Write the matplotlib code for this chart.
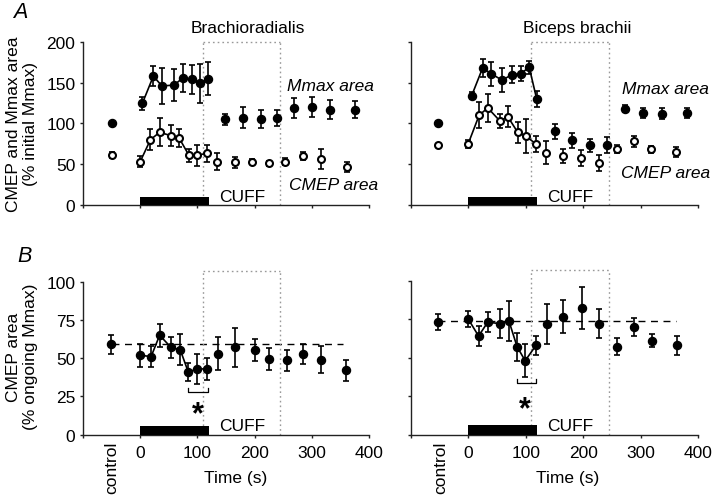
import matplotlib
matplotlib.use("Agg")
import matplotlib.pyplot as plt
import numpy as np

plt.rcParams['font.family'] = ['Liberation Sans', 'DejaVu Sans']

# ---------------- data ----------------
# Top-left (Brachioradialis) Mmax (filled) and CMEP (open), % initial Mmax
bra_m_t = [-50, 4, 23, 38, 59, 75, 90, 105, 119, 149, 180, 211, 239, 269, 301, 331, 376]
bra_m_v = [100, 125, 158, 146, 147, 156, 154, 149, 155, 105, 107, 105, 107, 119, 120, 117, 117]
bra_m_e = [0, 8, 12, 22, 20, 17, 18, 24, 20, 7, 13, 11, 10, 12, 12, 12, 11]
bra_c_t = [-50, 0, 18, 34, 53, 68, 85, 100, 116, 134, 165, 196, 226, 254, 285, 316, 361]
bra_c_v = [61, 53, 80, 89, 85, 82, 61, 61, 63, 53, 52, 53, 51, 53, 60, 56, 46]
bra_c_e = [4, 7, 13, 17, 13, 11, 8, 13, 11, 10, 7, 3, 3, 4, 5, 12, 6]

# Top-right (Biceps brachii)
bic_m_t = [-52, 6, 25, 40, 59, 76, 91, 106, 119, 150, 181, 212, 242, 272, 304, 337, 381]
bic_m_v = [100, 134, 168, 161, 153, 160, 161, 169, 130, 90, 79, 73, 73, 118, 113, 112, 113]
bic_m_e = [0, 4, 11, 15, 15, 10, 9, 8, 10, 9, 9, 8, 10, 4, 6, 7, 6]
bic_c_t = [-52, 0, 19, 34, 55, 69, 86, 101, 117, 136, 165, 196, 227, 258, 288, 318, 362]
bic_c_v = [74, 75, 110, 119, 103, 108, 89, 84, 75, 64, 60, 57, 51, 68, 78, 68, 65]
bic_c_e = [0, 5, 16, 17, 9, 13, 13, 21, 10, 14, 9, 10, 10, 5, 7, 4, 6]

# Bottom panels: CMEP area (% ongoing Mmax)
bra_b_t = [-51, 0, 19, 34, 54, 70, 84, 100, 117, 136, 165, 200, 225, 256, 285, 316, 360]
bra_b_v = [59, 52, 51, 65, 57, 55.5, 41, 43, 43, 53, 57, 55.5, 49.5, 48.5, 52.5, 49, 42]
bra_b_e = [6, 7.6, 7, 7.6, 7, 10, 6, 10, 7, 10.6, 13, 7.3, 7, 7, 6.5, 8.7, 7]
bra_b_ctrl = 59

bic_b_t = [-52, 0, 18, 34, 55, 71, 85, 99, 118, 137, 165, 197, 227, 258, 288, 319, 363]
bic_b_v = [73, 75, 64, 73, 72, 73.5, 57, 48, 58, 72, 76.5, 82, 72, 57, 70, 61, 58]
bic_b_e = [5, 5.4, 6.5, 6.5, 9.4, 13, 9, 10.6, 6, 13, 10.7, 13.5, 9.6, 5.4, 5.8, 4.2, 6]
bic_b_ctrl = 73.7

n_isch = 8  # points 1..8 are connected by a line (ischaemia period)

W, H = 720, 502
fig = plt.figure(figsize=(W / 100, H / 100), dpi=100)


def ax_at(x0, x1, ytop, ybot):
    return fig.add_axes([x0 / W, (H - ybot) / H, (x1 - x0) / W, (ybot - ytop) / H])


ax_tl = ax_at(83, 369, 43, 205.7)
ax_tr = ax_at(410.7, 698.3, 43, 205.7)
ax_bl = ax_at(83, 369, 282.7, 435.7)
ax_br = ax_at(410.7, 698.3, 281.5, 435.7)

FS = 12.5
axc = '#222222'


def style(ax, ymax, yticks, ylabels, xlabels):
    ax.set_xlim(-100, 400)
    ax.set_ylim(0, ymax)
    for s in ['top', 'right']:
        ax.spines[s].set_visible(False)
    for s in ['left', 'bottom']:
        ax.spines[s].set_color(axc)
        ax.spines[s].set_linewidth(1.0)
    ax.set_yticks(yticks)
    ax.set_xticks([-100, 0, 100, 200, 300, 400])
    ax.tick_params(axis='both', direction='out', length=2.5, width=1, color=axc,
                   labelsize=FS, pad=3)
    if ylabels:
        ax.set_yticklabels([str(v) for v in yticks])
    else:
        ax.set_yticklabels([])
    if xlabels:
        ax.set_xticklabels(['', '0', '100', '200', '300', '400'])
        ax.tick_params(axis='x', pad=5)
    else:
        ax.set_xticklabels([])


def cuff(ax, top, bar_h, cuff_y):
    kw = dict(color='#999999', lw=1.0, ls=(0, (1.2, 2.2)), clip_on=False)
    ax.plot([110, 110], [0, top], **kw)
    ax.plot([245, 245], [0, top], **kw)
    ax.plot([110, 245], [top, top], **kw)
    ax.bar([60], [bar_h], width=120, color='black', zorder=3, clip_on=False)
    ax.text(138, cuff_y, 'CUFF', fontsize=FS, ha='left', va='center')


def series(ax, t, v, e, filled):
    t = np.array(t); v = np.array(v); e = np.array(e)
    ax.plot(t[1:1 + n_isch], v[1:1 + n_isch], color='black', lw=1.2, zorder=2)
    ax.errorbar(t, v, yerr=e, fmt='none', ecolor='black', elinewidth=1.2,
                capsize=2.5, capthick=1.2, zorder=3)
    if filled:
        ax.plot(t, v, 'o', ms=5.8, mfc='black', mec='black', zorder=4, clip_on=False)
    else:
        ax.plot(t, v, 'o', ms=5.0, mfc='white', mec='black', mew=1.5, zorder=4,
                clip_on=False)


# top panels
for ax, lab in [(ax_tl, True), (ax_tr, False)]:
    style(ax, 200, [0, 50, 100, 150, 200], lab, False)
    cuff(ax, 200, 10, 10)
for ax, lab in [(ax_bl, True), (ax_br, False)]:
    style(ax, 100, [0, 25, 50, 75, 100], lab, True)
    cuff(ax, 107, 6, 6)

series(ax_tl, bra_m_t, bra_m_v, bra_m_e, True)
series(ax_tl, bra_c_t, bra_c_v, bra_c_e, False)
series(ax_tr, bic_m_t, bic_m_v, bic_m_e, True)
series(ax_tr, bic_c_t, bic_c_v, bic_c_e, False)
series(ax_bl, bra_b_t, bra_b_v, bra_b_e, True)
series(ax_br, bic_b_t, bic_b_v, bic_b_e, True)

# dashed control reference lines
ax_bl.plot([-50, 355], [bra_b_ctrl, bra_b_ctrl], color='black', lw=1.0,
           dashes=(5, 4), zorder=1)
ax_br.plot([-52, 362], [bic_b_ctrl, bic_b_ctrl], color='black', lw=1.0,
           dashes=(5, 4), zorder=1)

# significance brackets
for ax, x0, x1, yb, ys, xs in [(ax_bl, 84, 119, 28, 8, 101), (ax_br, 84, 118, 33.5, 11, 99)]:
    ax.plot([x0, x0, x1, x1], [yb + 2.5, yb, yb, yb + 2.5], color='black', lw=0.9)
    ax.text(xs, ys, '*', fontsize=22, fontweight='bold', ha='center', va='baseline')

# panel texts
ax_tl.text(257, 146, 'Mmax area', fontsize=FS, style='italic', ha='left', va='center')
ax_tl.text(260, 25, 'CMEP area', fontsize=FS, style='italic', ha='left', va='center')
ax_tr.text(267, 143, 'Mmax area', fontsize=FS, style='italic', ha='left', va='center')
ax_tr.text(266, 40, 'CMEP area', fontsize=FS, style='italic', ha='left', va='center')

ax_tl.text(188, 218, 'Brachioradialis', fontsize=FS, ha='center', va='center', clip_on=False)
ax_tr.text(190, 218, 'Biceps brachii', fontsize=FS, ha='center', va='center', clip_on=False)

for ax, cx in [(ax_bl, -50), (ax_br, -48)]:
    ax.text(cx, -0.04, 'control', fontsize=FS, rotation=90, ha='center', va='top',
            transform=ax.get_xaxis_transform(), clip_on=False)
for ax, cx in [(ax_bl, 167), (ax_br, 172)]:
    ax.text(cx, -0.28, 'Time (s)', fontsize=FS, ha='center', va='center',
            transform=ax.get_xaxis_transform(), clip_on=False)

fig.text(22 / W, 1 - 124 / H, 'CMEP and Mmax area\n(% initial Mmax)', fontsize=FS,
         rotation=90, ha='center', va='center', linespacing=1.15)
fig.text(22 / W, 1 - 357 / H, 'CMEP area\n(% ongoing Mmax)', fontsize=FS,
         rotation=90, ha='center', va='center', linespacing=1.15)

fig.text(20 / W, 1 - 12.5 / H, 'A', fontsize=15.5, style='italic', ha='center', va='center')
fig.text(25 / W, 1 - 256 / H, 'B', fontsize=15.5, style='italic', ha='center', va='center')

fig.savefig('out.png', dpi=100)
